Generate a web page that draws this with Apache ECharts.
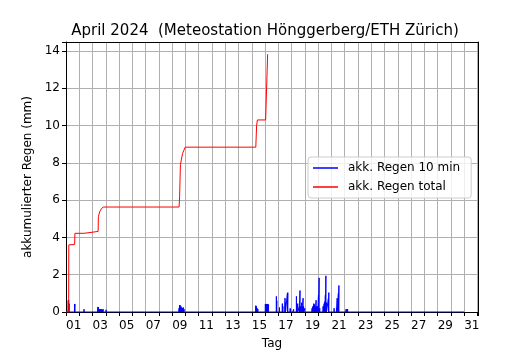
<!DOCTYPE html>
<html>
<head>
<meta charset="utf-8">
<script src="https://cdn.jsdelivr.net/npm/echarts@6/dist/echarts.min.js"></script>
<style>
  html, body { margin: 0; padding: 0; background: #fff; }
  #chart { width: 530px; height: 350px; }
</style>
</head>
<body>
<div id="chart"></div>
<script>
// Tag im April (1 = 01.04. 00:00), akkumulierter Regen total
var totalDay = [1.0, 1.2, 1.21, 1.65, 1.67, 2.36, 2.38, 3.42, 3.44, 3.52, 3.54, 3.63, 3.65, 3.78, 3.80, 9.52, 9.56, 9.62, 9.72, 9.78, 9.90, 9.98, 15.30, 15.36, 15.42, 16.04, 16.19];
var totalMm  = [0.0, 0.0, 3.60, 3.62, 4.22, 4.22, 4.32, 4.32, 5.11, 5.11, 5.38, 5.38, 5.52, 5.52, 5.63, 5.63, 6.20, 7.90, 7.92, 8.50, 8.52, 8.84, 8.84, 10.00, 10.30, 10.30, 13.82];

// 10-min Regen (nur Intervalle mit Regen)
var rainDay = [1.17, 1.20, 1.23, 1.64, 1.67, 2.36,
  3.40, 3.45, 3.52, 3.60, 3.68, 3.75, 3.80, 4.02,
  9.52, 9.56, 9.60, 9.66, 9.72, 9.78, 9.84, 9.90,
  15.30, 15.34, 15.40, 15.46,
  16.02, 16.08, 16.14, 16.20, 16.26,
  16.85, 16.88, 17.08, 17.30, 17.34, 17.50, 17.53, 17.68, 17.71, 17.89, 17.92,
  18.08, 18.15, 18.36, 18.40, 18.46, 18.58, 18.63, 18.68, 18.76, 18.80, 18.86, 18.90, 18.99,
  19.54, 19.60, 19.67, 19.72, 19.80, 19.84, 19.90, 19.97, 20.02, 20.07, 20.12,
  20.37, 20.45, 20.50, 20.54, 20.58, 20.62, 20.77, 20.80,
  21.20, 21.38, 21.43, 21.52, 21.56, 21.79,
  22.10, 22.16, 22.22, 25.24];
var rainMm = [0.63, 0.63, 0.45, 0.43, 0.43, 0.15,
  0.27, 0.25, 0.15, 0.15, 0.15, 0.12, 0.15, 0.12,
  0.20, 0.36, 0.36, 0.30, 0.24, 0.20, 0.24, 0.15,
  0.34, 0.30, 0.20, 0.15,
  0.43, 0.43, 0.43, 0.43, 0.40,
  0.84, 0.60, 0.24, 0.45, 0.30, 0.74, 0.50, 1.00, 1.04, 0.20, 0.15,
  0.10, 0.15, 0.84, 0.40, 0.45, 0.30, 1.15, 0.30, 0.50, 0.25, 0.74, 0.30, 0.20,
  0.20, 0.30, 0.45, 0.40, 0.30, 0.63, 0.30, 0.30, 0.90, 1.83, 0.20,
  0.30, 0.45, 0.55, 0.90, 1.94, 0.50, 0.74, 1.04,
  0.20, 0.20, 0.74, 1.00, 1.42, 0.10,
  0.15, 0.15, 0.15, 0.08];
var rainStart = 1.0, rainEnd = 31.0;

var yTicks = [0, 2, 4, 6, 8, 10, 12, 14];

var font = 'DejaVu Sans';

// Linie fuer 10-min Werte: zwischen den Werten auf 0 zurueck
var rainLine = [[rainStart, 0]];
for (var i = 0; i < rainDay.length; i++) {
  rainLine.push([rainDay[i] - 0.004, 0]);
  rainLine.push([rainDay[i], rainMm[i]]);
  rainLine.push([rainDay[i] + 0.004, 0]);
}
rainLine.push([rainEnd, 0]);

var totalLine = totalDay.map(function (d, i) { return [d, totalMm[i]]; });

var chart = echarts.init(document.getElementById('chart'));
chart.setOption({
  animation: false,
  backgroundColor: '#fff',
  title: {
    text: 'April 2024  (Meteostation Hönggerberg/ETH Zürich)',
    left: 'center',
    top: 19,
    textStyle: { fontFamily: font, fontSize: 15, fontWeight: 'normal', color: '#000' }
  },
  grid: { left: 66, right: 52, top: 42, bottom: 38, containLabel: false, outerBoundsMode: 'none' },
  legend: {
    left: 308,
    top: 157,
    orient: 'vertical',
    data: [
      { name: 'akk. Regen 10 min', icon: 'rect' },
      { name: 'akk. Regen total', icon: 'rect' }
    ],
    itemWidth: 25,
    itemHeight: 1.5,
    itemGap: 5,
    padding: [4, 11, 4, 5],
    backgroundColor: 'rgba(255,255,255,0.8)',
    borderColor: '#cccccc',
    borderWidth: 1,
    borderRadius: 3,
    textStyle: { fontFamily: font, fontSize: 12, color: '#000', lineHeight: 14, padding: [0, 0, 0, 5] }
  },
  xAxis: [
    {
      type: 'value',
      min: 1,
      max: 32.04,
      interval: 1,
      position: 'bottom',
      name: 'Tag',
      nameLocation: 'middle',
      nameGap: 26,
      nameTextStyle: { fontFamily: font, fontSize: 12, color: '#000' },
      axisLine: { show: true, onZero: false, lineStyle: { color: '#000', width: 1 } },
      axisTick: { show: true, length: 4, lineStyle: { color: '#000' } },
      axisLabel: {
        fontFamily: font, fontSize: 12, color: '#000', margin: 8, align: 'left',
        formatter: function (v) {
          if (Math.abs(v - Math.round(v)) > 1e-6 || Math.round(v) % 2 === 0) return '';
          var d = Math.round(v);
          return (d < 10 ? '0' : '') + d;
        }
      },
      splitLine: { show: true, lineStyle: { color: '#b0b0b0', width: 1 } }
    },
    {
      type: 'value',
      min: 1,
      max: 32.04,
      position: 'top',
      axisLine: { show: true, onZero: false, lineStyle: { color: '#000', width: 1 } },
      axisTick: { show: false },
      axisLabel: { show: false },
      splitLine: { show: false }
    }
  ],
  yAxis: [
    {
      type: 'value',
      min: 0,
      max: 14.48,
      interval: 2,
      position: 'left',
      name: 'akkumulierter Regen (mm)',
      nameLocation: 'middle',
      nameGap: 32,
      nameTextStyle: { fontFamily: font, fontSize: 12, color: '#000' },
      axisLine: { show: true, onZero: false, lineStyle: { color: '#000', width: 1 } },
      axisTick: { show: true, length: 4, lineStyle: { color: '#000' } },
      axisLabel: {
        fontFamily: font, fontSize: 12, color: '#000', margin: 6,
        formatter: function (v) { return yTicks.indexOf(v) >= 0 ? String(v) : ''; }
      },
      splitLine: { show: true, lineStyle: { color: '#b0b0b0', width: 1 } }
    },
    {
      type: 'value',
      min: 0,
      max: 14.48,
      position: 'right',
      axisLine: { show: true, onZero: false, lineStyle: { color: '#000', width: 1 } },
      axisTick: { show: false },
      axisLabel: { show: false },
      splitLine: { show: false }
    }
  ],
  series: [
    {
      name: 'akk. Regen 10 min',
      type: 'line',
      xAxisIndex: 0,
      yAxisIndex: 0,
      symbol: 'none',
      color: '#0000ff',
      lineStyle: { color: '#0000ff', width: 1 },
      data: rainLine
    },
    {
      name: 'akk. Regen total',
      type: 'line',
      xAxisIndex: 0,
      yAxisIndex: 0,
      symbol: 'none',
      color: '#ff0000',
      lineStyle: { color: '#ff0000', width: 1 },
      data: totalLine
    }
  ]
});
</script>
</body>
</html>
